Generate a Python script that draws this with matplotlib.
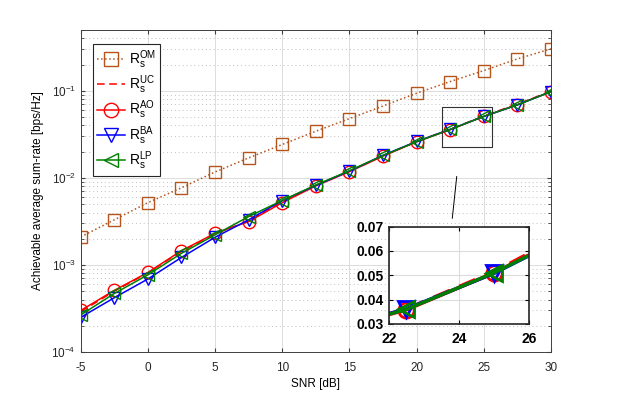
import numpy as np
import matplotlib
matplotlib.use("Agg")
import matplotlib.pyplot as plt
from matplotlib.ticker import LogLocator, NullFormatter

plt.rcParams['font.family'] = ['Liberation Sans', 'DejaVu Sans']
plt.rcParams['mathtext.fontset'] = 'custom'
plt.rcParams['mathtext.rm'] = 'Liberation Sans'
plt.rcParams['mathtext.it'] = 'Liberation Sans'
plt.rcParams['axes.unicode_minus'] = False

snr = [-5, -2.5, 0, 2.5, 5, 7.5, 10, 12.5, 15, 17.5, 20, 22.5, 25, 27.5, 30]
r_om = [0.0021, 0.0033, 0.0052, 0.0077, 0.0117, 0.017, 0.0242, 0.0344, 0.048,
        0.067, 0.094, 0.128, 0.171, 0.233, 0.304]
r_uc = [0.00029, 0.00050, 0.00081, 0.00143, 0.00228, 0.0032, 0.0053, 0.0082,
        0.0119, 0.0180, 0.0262, 0.0362, 0.0515, 0.0705, 0.099]
r_ao = [0.00030, 0.00051, 0.00082, 0.00146, 0.00231, 0.00315, 0.0052, 0.0081,
        0.0118, 0.0178, 0.0260, 0.0358, 0.0510, 0.0695, 0.098]
r_ba = [0.00025, 0.00042, 0.00069, 0.00122, 0.00208, 0.0033, 0.0055, 0.0082,
        0.0120, 0.0182, 0.0262, 0.0362, 0.0508, 0.0690, 0.098]
r_lp = [0.000266, 0.00047, 0.00077, 0.00136, 0.00222, 0.0036, 0.0055, 0.0083,
        0.0121, 0.0181, 0.0261, 0.0360, 0.0510, 0.0690, 0.098]

brown = '#B5541C'
series = [
  (r_om, brown, ':', 's', r'$\mathrm{R_s^{OM}}$'),
  (r_uc, 'red', (0, (5, 3)), None, r'$\mathrm{R_s^{UC}}$'),
  (r_ao, 'red', '-', 'o', r'$\mathrm{R_s^{AO}}$'),
  (r_ba, 'blue', '-', 'v', r'$\mathrm{R_s^{BA}}$'),
  (r_lp, 'green', '-', '<', r'$\mathrm{R_s^{LP}}$'),
]

def draw(ax, lw=1.0, ms=9, mew=1.0):
  for (vals, col, ls, mk, lab) in series:
    ax.plot(snr, vals, color=col, linestyle=ls, marker=mk, markersize=ms,
            markerfacecolor='none', markeredgewidth=mew, linewidth=lw, label=lab)

fig = plt.figure(figsize=(6.28, 3.99), dpi=100)
ax = fig.add_axes([0.1285, 0.1178, 0.749, 0.807])
draw(ax, lw=1.1)
ax.set_yscale('log')
ax.set_xlim(-5, 30)
ax.set_ylim(1e-4, 0.5)
ax.set_xticks(range(-5, 31, 5))
ax.yaxis.set_major_locator(LogLocator(base=10, numticks=10))
ax.yaxis.set_minor_locator(LogLocator(base=10, subs=np.arange(2, 10), numticks=10))
ax.yaxis.set_minor_formatter(NullFormatter())
ax.grid(True, which='major', color='#DCDCDC', linewidth=0.7)
ax.grid(True, which='minor', axis='y', color='#C0C0C0', linestyle=(0, (1, 3)), linewidth=0.7)
ax.set_axisbelow(True)
ax.tick_params(labelsize=8.5, direction='in', which='both', top=True, right=True,
               length=3, colors='#404040', labelcolor='#262626')
ax.tick_params(axis='x', pad=7)
ax.tick_params(which='minor', length=2)
for s in ax.spines.values():
  s.set_color('#404040')
  s.set_linewidth(0.7)
ax.set_xlabel('SNR [dB]', fontsize=8.5, labelpad=3)
ax.set_ylabel('Achievable average sum-rate [bps/Hz]', fontsize=8.5, labelpad=5)

leg = ax.legend(loc='upper left', bbox_to_anchor=(0.026, 0.957), fontsize=10,
                fancybox=False, edgecolor='#262626', framealpha=1,
                handlelength=2.0, labelspacing=0.2, borderpad=0.3, handletextpad=0.3,
                borderaxespad=0, markerscale=1.15)
leg.get_frame().set_linewidth(0.8)

# zoom rectangle and connector
ax.plot([21.9, 25.6, 25.6, 21.9, 21.9], [0.0227, 0.0227, 0.065, 0.065, 0.0227],
        color='#333333', linewidth=0.8)
ax.plot([22.98, 22.65], [0.01035, 0.00344], color='black', linewidth=0.7)

ins = fig.add_axes([0.619, 0.188, 0.2235, 0.244])
draw(ins, lw=2.5, ms=11, mew=2.0)
ins.set_xlim(22, 26)
ins.set_ylim(0.03, 0.07)
ins.set_xticks([22, 24, 26])
ins.set_yticks([0.03, 0.04, 0.05, 0.06, 0.07])
ins.set_yticklabels(['0.03', '0.04', '0.05', '0.06', '0.07'])
ins.grid(True, color='#DCDCDC', linewidth=0.8)
ins.set_axisbelow(True)
ins.tick_params(labelsize=10, direction='in', top=True, right=True, length=3)
ins.tick_params(axis='x', pad=6)
for lab in ins.get_xticklabels() + ins.get_yticklabels():
  lab.set_fontweight('bold')
for s in ins.spines.values():
  s.set_color('#262626')
  s.set_linewidth(1.2)

fig.savefig('out.png', dpi=100)
